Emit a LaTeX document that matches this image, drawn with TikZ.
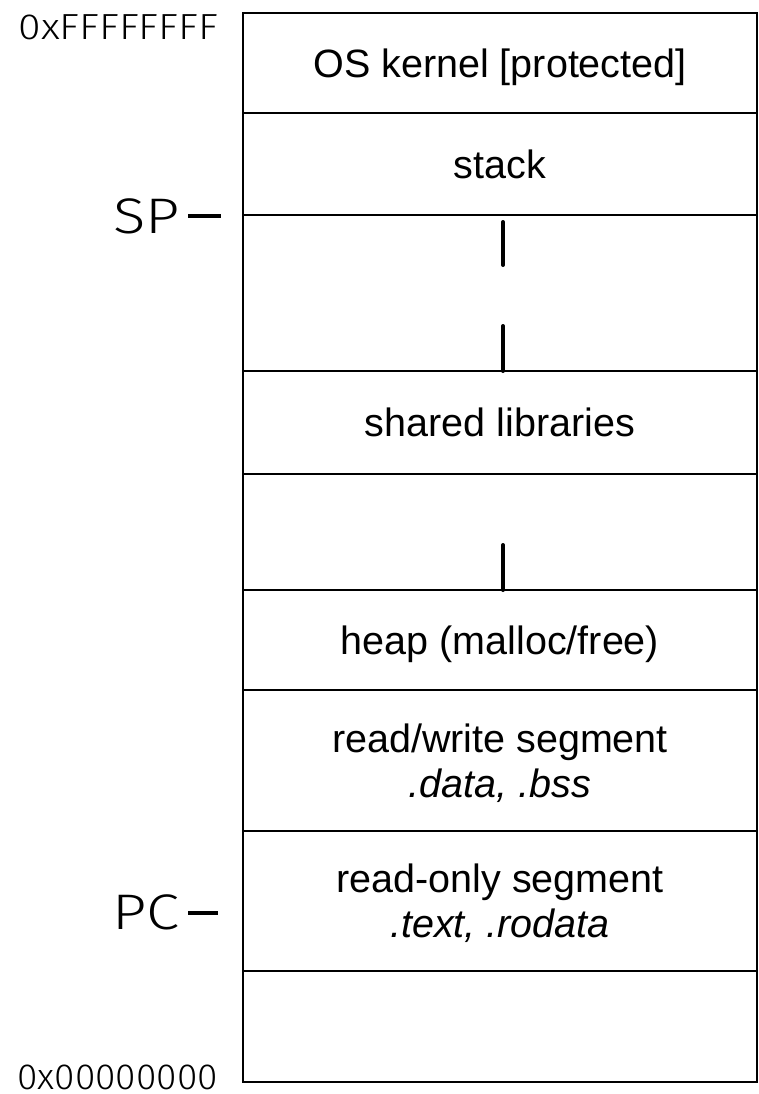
\documentclass[tikz,border=0pt]{standalone}
\usepackage{fontspec}
\setmainfont{Liberation Sans}
\newfontfamily\regfont{Fira Sans Light}[FakeStretch=1.2]
\newfontfamily\addrhighfont{Fira Sans Light}[FakeStretch=1.13]
\newfontfamily\addrlowfont{Fira Sans Light}[FakeStretch=1.02]
\begin{document}
\begin{tikzpicture}
[x=1pt,y=-1pt,
  segdecorate/.style={shape=rectangle,draw,line width=2pt,minimum width=514pt,outer sep=0pt,inner sep=0pt},%
  segtext/.style={font=\fontsize{39.5}{45}\selectfont,text height=28.3pt,text depth=0pt,inner sep=0pt},%
  addrtext/.style={anchor=east,text height=25pt,text depth=0pt,inner sep=0pt},%
  regtext/.style={font=\regfont\fontsize{50}{56}\selectfont,anchor=east,text height=34.5pt,text depth=0pt,inner sep=0pt},%
  tickdecorate/.style={-,line width=4pt},%
  growdecorate/.style={-,line width=4pt,line cap=round}]
\useasboundingbox (0,0) rectangle (759,1094);
%% segments of the address space
\foreach \segname/\ytop/\ybot in {kernel/13/113, stack/113/215, gapa/215/371, shlib/371/474, gapb/474/590, heap/590/690, rwseg/690/831, roseg/831/971, low/971/1082} {
  \node (\segname) at (500,{(\ytop+\ybot)/2}) [segdecorate,minimum height={\ybot-\ytop}] {};
}
%% segment names
\node (kerneltext) at (kernel.center) [segtext] {OS kernel [protected]};
\node (stacktext) at (stack.center) [segtext] {stack};
\node (shlibtext) at (shlib.center) [segtext] {shared libraries};
\node (heaptext) at (heap.center) [segtext] {heap (malloc/free)};
\node (rwtext) at ([yshift=22.5pt]rwseg.center) [segtext] {read/write segment};
\node (rwsect) at ([yshift=-22.5pt]rwseg.center) [segtext] {\itshape .data, .bss};
\node (rotext) at ([yshift=22.5pt]roseg.center) [segtext] {read-only segment};
\node (rosect) at ([yshift=-22.5pt]roseg.center) [segtext] {\itshape .text, .rodata};
%% addresses and registers
\node (addrhigh) at (218,27.5) [addrtext,font=\addrhighfont\fontsize{36.3}{42}\selectfont] {0xFFFFFFFF};
\node (addrlow) at (218,1077) [addrtext,font=\addrlowfont\fontsize{36.3}{42}\selectfont] {0x00000000};
\node (sp) at (180,216) [regtext] {SP};
\node (pc) at (180,912.5) [regtext] {PC};
\draw[tickdecorate] ([xshift=8pt]sp.east) -- ([xshift=41pt]sp.east);
\draw[tickdecorate] ([xshift=8pt]pc.east) -- ([xshift=38pt]pc.east);
%% growth marks
\coordinate (growa) at (503,222);
\coordinate (growb) at (503,326);
\coordinate (growc) at (503,545);
\draw[growdecorate] (growa) -- ++(0,43);
\draw[growdecorate] (growb) -- (growb |- shlib.north);
\draw[growdecorate] (growc) -- (growc |- heap.north);
\end{tikzpicture}
\end{document}
